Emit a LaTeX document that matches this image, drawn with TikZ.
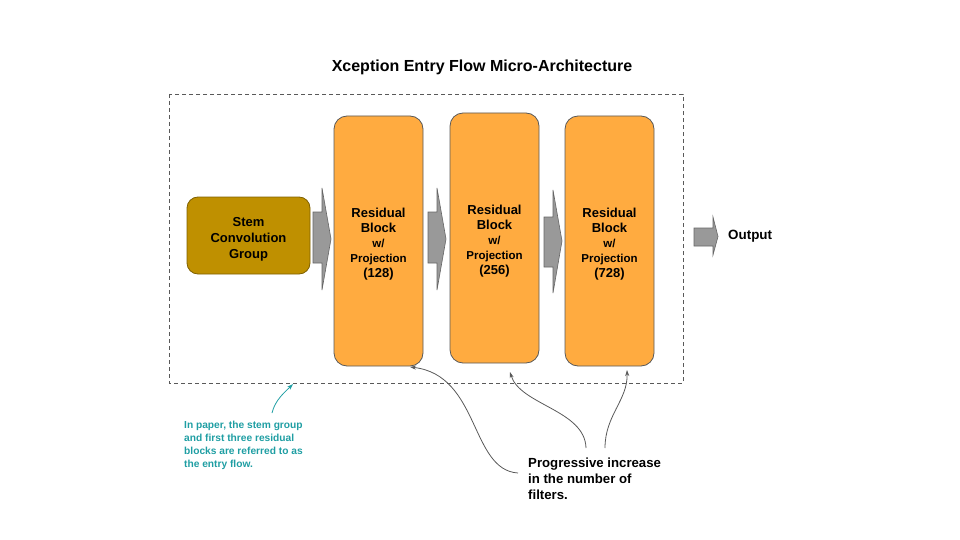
\documentclass[tikz,border=0pt]{standalone}
\usepackage{fontspec}
\setmainfont{Liberation Sans}
\usetikzlibrary{arrows.meta}
\definecolor{stemfill}{HTML}{BF9000}
\definecolor{stemdraw}{HTML}{7F6000}
\definecolor{resfill}{HTML}{FFAB40}
\definecolor{resdraw}{HTML}{595959}
\definecolor{arrfill}{HTML}{999999}
\definecolor{arrdraw}{HTML}{666666}
\definecolor{noteteal}{HTML}{1F9EA3}
\definecolor{linkgray}{HTML}{595959}
\tikzset{
  stembox/.style={draw=stemdraw, fill=stemfill, rounded corners=11pt, line width=0.8pt,
    minimum width=123pt, minimum height=77pt, inner sep=0pt, align=center,
    font=\bfseries\fontsize{13}{16}\selectfont},
  resbox/.style={draw=resdraw, fill=resfill, rounded corners=13pt, line width=0.8pt,
    minimum width=89pt, minimum height=250pt, inner sep=0pt, align=center,
    font=\bfseries\fontsize{13}{15}\selectfont},
  blockarrow/.style={draw=arrdraw, fill=arrfill, line width=0.6pt},
  link/.style={draw=linkgray, line width=0.8pt, -{Stealth[length=6pt,width=4pt]}},
  notelink/.style={draw=noteteal, line width=0.8pt, -{Stealth[length=6pt,width=4pt]}},
}
\newcommand{\smltxt}[1]{{\fontsize{11.5}{15}\selectfont #1}}
\newcommand{\pushdown}{\rule{0pt}{16pt}}
\begin{document}
\begin{tikzpicture}[x=1pt,y=-1pt]
\useasboundingbox (0,0) rectangle (960,540);
% title
\node[font=\bfseries\fontsize{16}{19}\selectfont] (title) at (482,67) {Xception Entry Flow Micro-Architecture};
% dashed frame
\draw[draw=linkgray, line width=0.6pt, dash pattern=on 4pt off 3pt] (169,94) rectangle (683,383);
% stem
\node[stembox] (stem) at (248.5,235.5) {\pushdown Stem\\Convolution\\Group};
% residual blocks
\node[resbox] (r1) at (378.5,241) {\pushdown Residual\\Block\\\smltxt{w/}\\\smltxt{Projection}\\(128)};
\node[resbox] (r2) at (494.5,238) {\pushdown Residual\\Block\\\smltxt{w/}\\\smltxt{Projection}\\(256)};
\node[resbox] (r3) at (609.5,241) {\pushdown Residual\\Block\\\smltxt{w/}\\\smltxt{Projection}\\(728)};
% block arrows
\draw[blockarrow] (313,212) -- (322,212) -- (322,188) -- (331,239) -- (322,290) -- (322,263) -- (313,263) -- cycle;
\draw[blockarrow] (428,212) -- (437,212) -- (437,188) -- (446,239) -- (437,290) -- (437,263) -- (428,263) -- cycle;
\draw[blockarrow] (544,217) -- (553,217) -- (553,190) -- (562,241) -- (553,293) -- (553,267) -- (544,267) -- cycle;
\draw[blockarrow] (694,228) -- (713,228) -- (713,217) -- (718,236.5) -- (713,255) -- (713,246) -- (694,246) -- cycle;
\node[font=\bfseries\fontsize{13.4}{16}\selectfont, anchor=west, inner sep=0pt] (out) at (728,236.5) {Output};
% note
\node[text=noteteal, font=\bfseries\fontsize{10.2}{13}\selectfont, align=left, anchor=north west, inner sep=0pt] (note) at (184,421) {In paper, the stem group\\and first three residual\\blocks are referred to as\\the entry flow.};
\coordinate (noteStart) at (272,413);
\coordinate (frameHit) at (293,384);
\draw[notelink] (noteStart) .. controls (275,400) and (285,392) .. (frameHit);
% progressive
\node[font=\bfseries\fontsize{13.2}{16}\selectfont, align=left, anchor=north west, inner sep=0pt] (prog) at (528,458) {Progressive increase\\in the number of\\filters.};
\coordinate (p1) at (518,473);
\coordinate (p2) at (586,448);
\coordinate (p3) at (605,448);
\draw[link] (p1) .. controls (470,470) and (480,375) .. (410,367);
\draw[link] (p2) .. controls (585,410) and (520,405) .. (510,372);
\draw[link] (p3) .. controls (605,415) and (628,400) .. (627,370);
\end{tikzpicture}
\end{document}
